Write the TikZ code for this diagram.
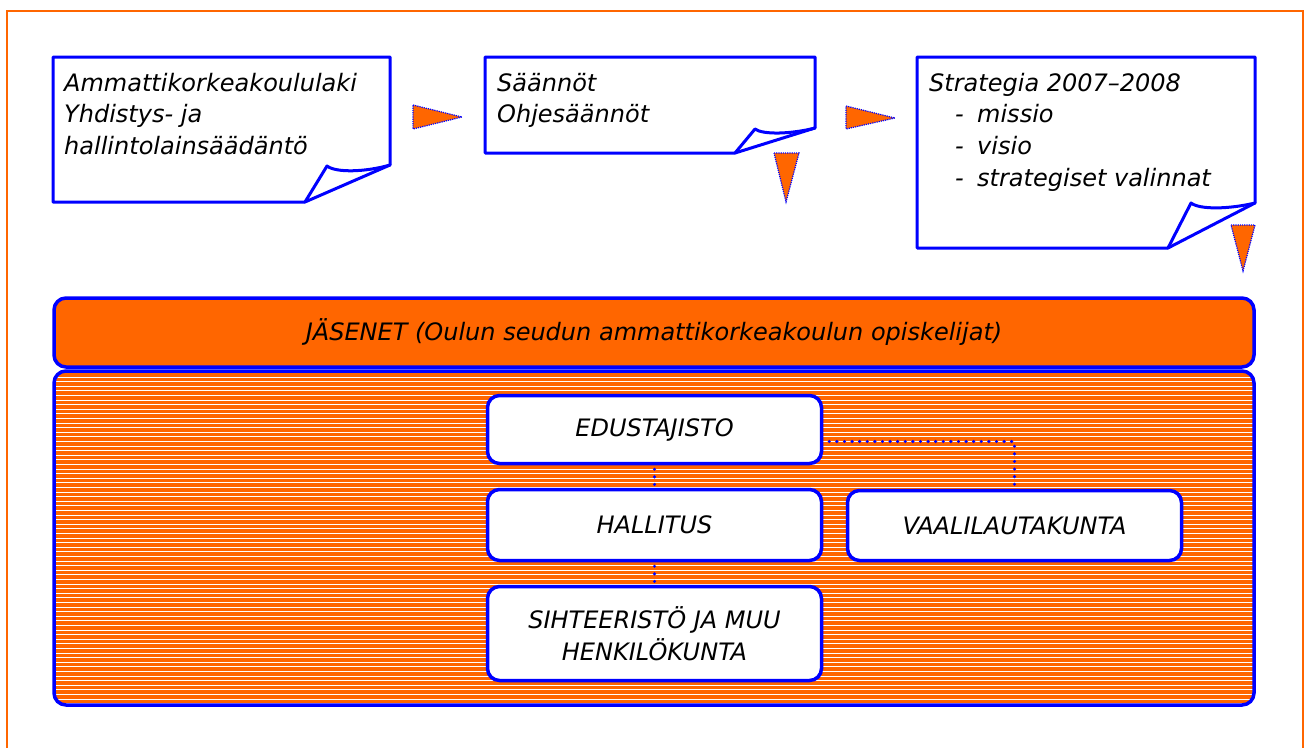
\documentclass[tikz,border=0pt]{standalone}
\usepackage{fontspec}
\setmainfont{DejaVu Sans}
\definecolor{org}{HTML}{FF6600}
\definecolor{blu}{HTML}{0000FF}
\begin{document}
\begin{tikzpicture}[x=1pt,y=-1pt,
  every node/.style={font=\fontsize{24}{32}\selectfont\itshape, text=black},
  doc/.style={draw=blu, line width=3pt, fill=white, line join=round},
  flap/.style={draw=blu, line width=3pt, line join=round, line cap=round},
  tri/.style={fill=org, draw=blu, line width=1.2pt, densely dotted},
  txt/.style={anchor=base west, inner sep=0pt},
  box/.style={draw=blu, line width=3.5pt, fill=white, rounded corners=12pt, minimum width=334pt, inner sep=0pt, align=center},
  link/.style={draw=blu, line width=3.4pt, line cap=round, dash pattern=on 0pt off 7.6pt},
  frame/.style={draw=org, line width=2.5pt}]
\useasboundingbox (0,0) rectangle (1305,747);
% outer frame
\draw[frame] (7,749) -- (7,11) -- (1303,11) -- (1303,749);

% documents
\draw[doc] (53,57) -- (390,57) -- (390,165) -- (305,202) -- (53,202) -- cycle;
\draw[flap] (305,202) -- (327,166) .. controls (336,173) and (366,172) .. (390,165);
\node[txt] (d1a) at (64,91) {Ammattikorkeakoululaki};
\node[txt] (d1b) at (64,122) {Yhdistys- ja};
\node[txt] (d1c) at (64,154) {hallintolainsäädäntö};

\draw[doc] (485,57) -- (815,57) -- (815,128) -- (735,153) -- (485,153) -- cycle;
\draw[flap] (735,153) -- (755,129) .. controls (763,135) and (792,134) .. (815,128);
\node[txt] (d2a) at (497,91) {Säännöt};
\node[txt] (d2b) at (497,122) {Ohjesäännöt};

\draw[doc] (917,57) -- (1255,57) -- (1255,203) -- (1168,248) -- (917,248) -- cycle;
\draw[flap] (1168,248) -- (1191,203) .. controls (1200,210) and (1230,209) .. (1255,203);
\node[txt] (d3a) at (929,91) {Strategia 2007--2008};
\node[txt] (d3b) at (955,122) {\makebox[22pt][l]{-}missio};
\node[txt] (d3c) at (955,154) {\makebox[22pt][l]{-}visio};
\node[txt] (d3d) at (955,186) {\makebox[22pt][l]{-}strategiset valinnat};

% arrow triangles
\draw[tri] (413,105) -- (462,117) -- (413,129) -- cycle;
\draw[tri] (846,106) -- (895,118) -- (846,129) -- cycle;
\draw[tri] (774,153) -- (799,153) -- (786,202) -- cycle;
\draw[tri] (1231,225) -- (1255,225) -- (1243,271) -- cycle;

% header bar
\node[draw=blu, line width=3.5pt, fill=org, rounded corners=12pt, minimum width=1200pt, minimum height=69pt, inner sep=0pt] (jas) at (654,332.5) {JÄSENET (Oulun seudun ammattikorkeakoulun opiskelijat)};

% striped area
\node[draw=blu, line width=3.5pt, rounded corners=12pt, minimum width=1200pt, minimum height=334pt, inner sep=0pt,
  path picture={
    \fill[org] (path picture bounding box.south west) rectangle (path picture bounding box.north east);
    \foreach \i in {0,...,74} {
      \draw[white, line width=1.1pt] ([yshift={-1.5pt-\i*4.6pt}]path picture bounding box.north west) -- ++(1210,0);
    }
  }] (org) at (654,538) {};

% organisation boxes
\node[box, minimum height=68pt] (edu) at (654.5,429.5) {EDUSTAJISTO};
\node[box, minimum height=71pt] (hal) at (654.5,525) {HALLITUS};
\node[box, minimum height=70pt] (vaa) at (1014.5,525.5) {VAALILAUTAKUNTA};
\node[box, minimum height=94pt] (sih) at (654.5,633.5) {SIHTEERISTÖ JA MUU\\HENKILÖKUNTA};

% dotted connectors
\draw[link] ([yshift=-4pt]edu.south) -- ([yshift=3pt]hal.north);
\draw[link] ([yshift=-4pt]hal.south) -- ([yshift=3pt]sih.north);
\draw[link] ([xshift=6pt,yshift=-12pt]edu.east) -| ([yshift=2pt]vaa.north);
\end{tikzpicture}
\end{document}
